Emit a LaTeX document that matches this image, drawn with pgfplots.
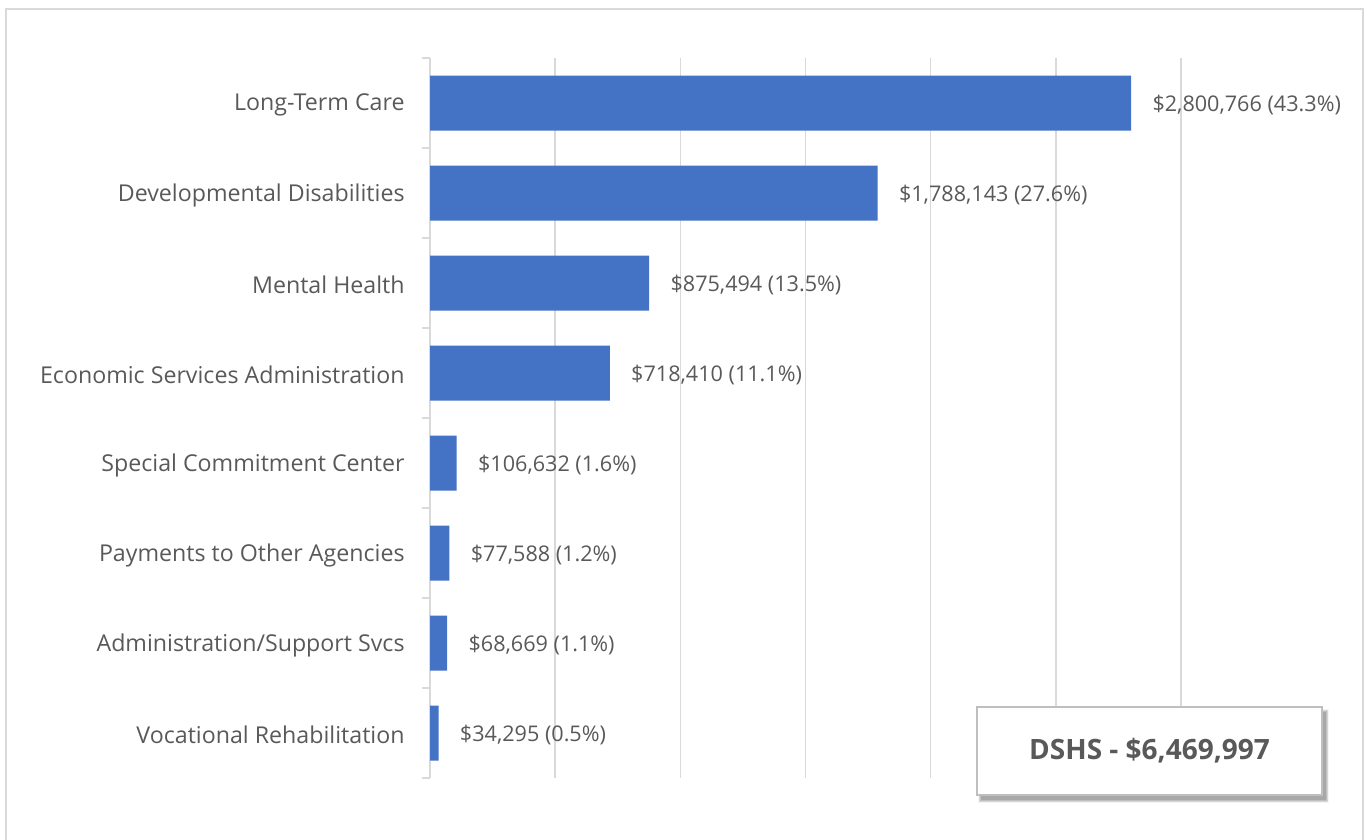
\documentclass[border=0pt]{standalone}
\usepackage{fontspec}
\setmainfont{Open Sans}
\usepackage{pgfplots}
\pgfplotsset{compat=1.18}
\definecolor{barblue}{HTML}{4472C4}
\definecolor{txt}{HTML}{595959}
\definecolor{gridc}{HTML}{D9D9D9}
\definecolor{framec}{HTML}{D9D9D9}
\definecolor{boxc}{HTML}{BFBFBF}
\begin{document}
\begin{tikzpicture}
\path[use as bounding box] (0,0) rectangle (682.5pt,420pt);
\draw[framec, line width=1pt] (3pt,-2pt) -- (3pt,415.5pt) -- (681.5pt,415.5pt) -- (681.5pt,-2pt);
\begin{axis}[
  at={(215pt,31pt)}, anchor=south west,
  width=375.5pt, height=360pt, scale only axis,
  xbar, bar width=27.5pt,
  xmin=0, xmax=3000000, ymin=-0.5, ymax=7.5, y dir=reverse,
  xtick={0,500000,1000000,1500000,2000000,2500000,3000000},
  xticklabels={}, scaled x ticks=false,
  xmajorgrids, grid style={gridc, line width=0.75pt},
  major tick length=0pt,
  major tick style={draw=none},
  ytick={0,1,2,3,4,5,6,7},
  yticklabels={Long-Term Care, Developmental Disabilities, Mental Health, Economic Services Administration, Special Commitment Center, Payments to Other Agencies, Administration/Support Svcs, Vocational Rehabilitation},
  minor ytick={-0.5,0.5,1.5,2.5,3.5,4.5,5.5,6.5,7.5},
  minor tick length=4pt,
  minor tick style={gridc, line width=0.75pt},
  tick align=outside,
  ytick pos=left, xtick pos=bottom,
  axis line style={draw=none},
  yticklabel style={font=\fontsize{11.6}{13.5}\selectfont, text=txt, inner sep=0pt, anchor=east, xshift=-12.5pt, yshift=-1pt},
  point meta=explicit symbolic,
  nodes near coords,
  every node near coord/.append style={anchor=west, inner sep=0pt, xshift=10.5pt, yshift=-1pt, font=\fontsize{10.8}{13}\selectfont, text=txt},
  clip=false,
]
\addplot[draw=none, fill=barblue] coordinates {
  (2800766,0) [\$2,800,766 (43.3\%)]
  (1788143,1) [\$1,788,143 (27.6\%)]
  (875494,2) [\$875,494 (13.5\%)]
  (718410,3) [\$718,410 (11.1\%)]
  (106632,4) [\$106,632 (1.6\%)]
  (77588,5) [\$77,588 (1.2\%)]
  (68669,6) [\$68,669 (1.1\%)]
  (34295,7) [\$34,295 (0.5\%)]
};
\end{axis}
% text box with shadow
\foreach \o/\a in {2.6/0.04,2.2/0.06,1.8/0.08,1.4/0.10,1.0/0.12} {
  \fill[black, opacity=\a] (488.5pt+2pt-\o pt+1pt, 22.5pt-2.5pt-\o pt+1pt) rectangle (661pt+2pt+\o pt-1pt, 66.5pt-2.5pt+\o pt-1pt);
}
\draw[boxc, fill=white, line width=0.8pt] (488.5pt,22.5pt) rectangle (661pt,66.5pt);
\node[text=txt, font=\fontsize{14}{16.5}\selectfont\bfseries] at (574.75pt,44.5pt) {DSHS - \$6,469,997};
\end{tikzpicture}
\end{document}
